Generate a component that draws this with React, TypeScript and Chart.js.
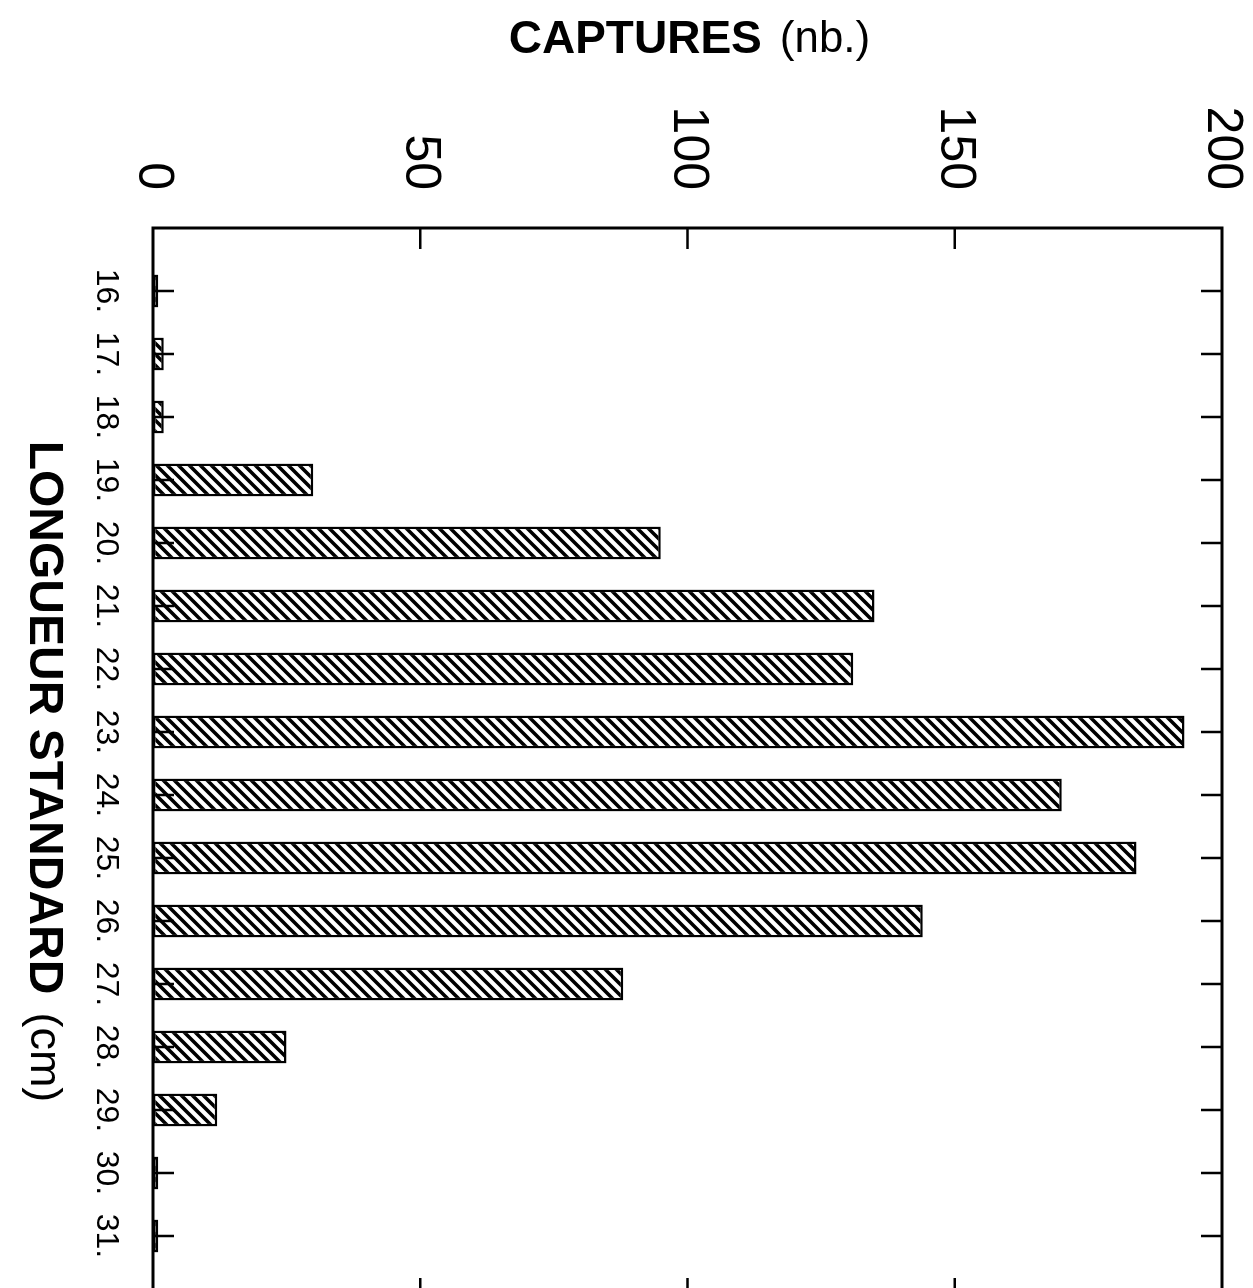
import React, { useEffect, useRef } from 'react';
import { Chart, registerables } from 'chart.js';

Chart.register(...registerables);

// ---- data ----
const lengths = [16, 17, 18, 19, 20, 21, 22, 23, 24, 25, 26, 27, 28, 29, 30, 31];
const lengthLabels = ['16.', '17.', '18.', '19.', '20.', '21.', '22.', '23.', '24.', '25.', '26.', '27.', '28.', '29.', '30.', '31.'];
const captures = [1, 2, 2, 30, 95, 135, 131, 193, 170, 184, 144, 88, 25, 12, 1, 1];
const captureTickValues = [50, 100, 150];
const yTitleBold = 'CAPTURES';
const yTitleUnit = '(nb.)';
const xTitleBold = 'LONGUEUR STANDARD';
const xTitleUnit = '(cm)';

const FONT = "'Liberation Sans', Arial, Helvetica, sans-serif";
const CW = 1310; // canvas width (becomes visual height after rotation)
const CH = 1253; // canvas height (becomes visual width after rotation)

function makeHatch(): CanvasPattern | string {
  const s = 11;
  const c = document.createElement('canvas');
  c.width = s;
  c.height = s;
  const g = c.getContext('2d');
  if (!g) return '#888';
  g.fillStyle = '#fff';
  g.fillRect(0, 0, s, s);
  g.strokeStyle = '#000';
  g.lineWidth = 3.6;
  g.lineCap = 'square';
  for (let k = -1; k <= 1; k++) {
    g.beginPath();
    g.moveTo(k * s, s);
    g.lineTo(k * s + s, 0);
    g.stroke();
  }
  const p = g.createPattern(c, 'repeat');
  return p || '#888';
}

const framePlugin = {
  id: 'frameTicks',
  afterDatasetsDraw(chart: any) {
    const ctx = chart.ctx as CanvasRenderingContext2D;
    const { left, right, top, bottom } = chart.chartArea;
    const xs = chart.scales.x;
    const ys = chart.scales.y;
    const tl = 21;
    ctx.save();
    ctx.strokeStyle = '#000';
    ctx.lineWidth = 2.5;
    ctx.beginPath();
    for (const v of captureTickValues) {
      const p = ys.getPixelForValue(v);
      ctx.moveTo(left, p);
      ctx.lineTo(left + tl, p);
      ctx.moveTo(right, p);
      ctx.lineTo(right - tl, p);
    }
    for (const l of lengths) {
      const p = xs.getPixelForValue(l);
      ctx.moveTo(p, bottom);
      ctx.lineTo(p, bottom - tl);
      ctx.moveTo(p, top);
      ctx.lineTo(p, top + tl);
    }
    ctx.stroke();
    ctx.lineWidth = 3;
    ctx.strokeRect(left, top, right - left, bottom - top);
    ctx.restore();
  },
  afterDraw(chart: any) {
    const ctx = chart.ctx as CanvasRenderingContext2D;
    const { left, right, top, bottom } = chart.chartArea;
    ctx.save();
    ctx.fillStyle = '#000';
    ctx.textBaseline = 'middle';
    ctx.textAlign = 'left';
    // value-axis title (rotated)
    {
      const bold = `bold 46px ${FONT}`;
      const norm = `44px ${FONT}`;
      ctx.font = bold;
      const w1 = ctx.measureText(yTitleBold).width;
      ctx.font = norm;
      const w2 = ctx.measureText(yTitleUnit).width;
      const gap = 18;
      const total = w1 + gap + w2;
      ctx.save();
      ctx.translate(40, (top + bottom) / 2 - 2);
      ctx.rotate(-Math.PI / 2);
      ctx.font = bold;
      ctx.fillText(yTitleBold, -total / 2, 0);
      ctx.font = norm;
      ctx.fillText(yTitleUnit, -total / 2 + w1 + gap, 0);
      ctx.restore();
    }
    // category-axis title
    {
      const bold = `bold 48px ${FONT}`;
      const norm = `45px ${FONT}`;
      ctx.font = bold;
      const w1 = ctx.measureText(xTitleBold).width;
      ctx.font = norm;
      const w2 = ctx.measureText(xTitleUnit).width;
      const gap = 18;
      const total = w1 + gap + w2;
      const cx = (left + right) / 2 + 8;
      const cy = 1210;
      ctx.font = bold;
      ctx.fillText(xTitleBold, cx - total / 2, cy);
      ctx.font = norm;
      ctx.fillText(xTitleUnit, cx - total / 2 + w1 + gap, cy);
    }
    ctx.restore();
  },
};

export default function App() {
  const ref = useRef<HTMLCanvasElement | null>(null);

  useEffect(() => {
    const canvas = ref.current;
    if (!canvas) return;
    const hatch = makeHatch();
    const chart = new Chart(canvas, {
      type: 'bar',
      data: {
        datasets: [
          {
            data: lengths.map((l, i) => ({ x: l, y: captures[i] })),
            backgroundColor: hatch as any,
            borderColor: '#000',
            borderWidth: 2.5,
            borderSkipped: false,
            barPercentage: 0.52,
            categoryPercentage: 1,
          },
        ],
      },
      options: {
        responsive: false,
        maintainAspectRatio: false,
        animation: false,
        devicePixelRatio: 1,
        layout: { padding: { top: 31, right: CW - 1299, left: 0, bottom: 0 } },
        plugins: {
          legend: { display: false },
          tooltip: { enabled: false },
          title: { display: false },
        },
        scales: {
          x: {
            type: 'linear',
            min: 15,
            max: 32,
            offset: false,
            grid: { display: false, offset: false },
            border: { display: false },
            ticks: {
              stepSize: 1,
              autoSkip: false,
              maxRotation: 0,
              minRotation: 0,
              padding: 20,
              color: '#000',
              font: { family: FONT, size: 32 },
              callback: (value: any) => {
                const i = lengths.indexOf(Number(value));
                return i >= 0 ? lengthLabels[i] : '';
              },
            },
            afterFit: (scale: any) => {
              scale.height = 153;
              scale.paddingLeft = 0;
              scale.paddingRight = 0;
              scale.paddingTop = 0;
              scale.paddingBottom = 0;
            },
          },
          y: {
            type: 'linear',
            min: 0,
            max: 200,
            grid: { display: false },
            border: { display: false },
            ticks: {
              stepSize: 50,
              padding: 30,
              color: '#000',
              font: { family: FONT, size: 50 },
            },
            afterFit: (scale: any) => {
              scale.width = 228;
              scale.paddingLeft = 0;
              scale.paddingRight = 0;
              scale.paddingTop = 0;
              scale.paddingBottom = 0;
            },
          },
        },
      },
      plugins: [framePlugin],
    } as any);
    return () => chart.destroy();
  }, []);

  return (
    <div
      style={{
        position: 'fixed',
        left: 0,
        top: 0,
        width: 1253,
        height: 1288,
        overflow: 'hidden',
        background: '#fff',
      }}
    >
      <div
        style={{
          position: 'absolute',
          left: 0,
          top: 0,
          width: CW,
          height: CH,
          transformOrigin: '0 0',
          transform: 'translateX(1253px) rotate(90deg)',
        }}
      >
        <canvas ref={ref} width={CW} height={CH} style={{ width: CW, height: CH, display: 'block' }} />
      </div>
    </div>
  );
}
